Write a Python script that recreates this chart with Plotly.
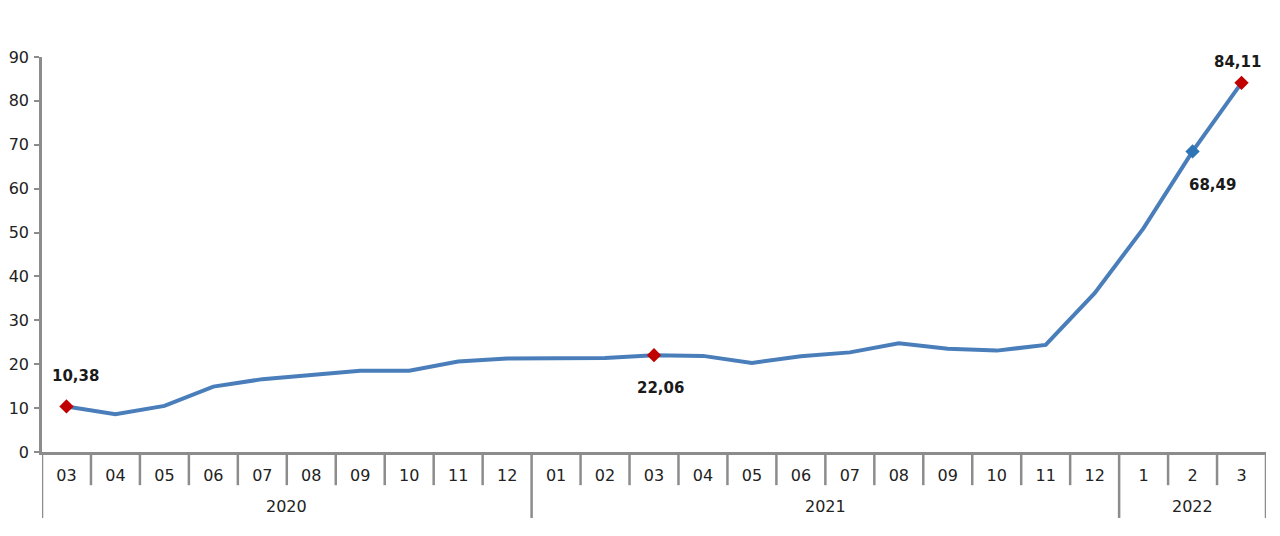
import plotly.graph_objects as go

# aylar ve yillar
months = ["03", "04", "05", "06", "07", "08", "09", "10", "11", "12",
          "01", "02", "03", "04", "05", "06", "07", "08", "09", "10", "11", "12",
          "1", "2", "3"]
years = ["2020", "2021", "2022"]
year_counts = [10, 12, 3]

values = [10.38, 8.6, 10.5, 14.9, 16.6, 17.5, 18.5, 18.5, 20.6, 21.3,
          21.3, 21.4, 22.06, 21.9, 20.3, 21.8, 22.7, 24.8, 23.5, 23.1, 24.4,
          36.2, 51.0, 68.49, 84.11]

# isaretli noktalar: indeks -> renk
highlights = {0: "#C00000", 12: "#C00000", 23: "#2E75B6", 24: "#C00000"}
label_shift = {0: (9, 30), 12: (6, -33), 23: (20, -34), 24: (-4, 21)}

y_ticks = [0, 10, 20, 30, 40, 50, 60, 70, 80, 90]

x_idx = list(range(len(months)))
axis_grey = "#8C8C8C"
font_fam = "DejaVu Sans, Arial"

fig = go.Figure()
fig.add_trace(go.Scatter(
    x=x_idx, y=values, mode="lines",
    line=dict(color="#4A7EBB", width=4),
    hoverinfo="skip", showlegend=False
))

for i, col in highlights.items():
    fig.add_trace(go.Scatter(
        x=[i], y=[values[i]], mode="markers",
        marker=dict(symbol="diamond", size=11, color=col),
        showlegend=False, hoverinfo="skip"
    ))
    txt = f"{values[i]:.2f}".replace(".", ",")
    xs, ys = label_shift[i]
    fig.add_annotation(x=i, y=values[i], text=f"<b>{txt}</b>", showarrow=False,
                       xshift=xs, yshift=ys,
                       font=dict(size=15, color="#1A1A1A", family=font_fam))

shapes = []
# ay ayiricilari
bounds = [0]
for c in year_counts:
    bounds.append(bounds[-1] + c)
for k in range(len(months) + 1):
    long = k in bounds
    shapes.append(dict(type="line", xref="x", yref="paper",
                       x0=k - 0.5, x1=k - 0.5, y0=0, y1=-0.167 if long else -0.084,
                       line=dict(color=axis_grey, width=2.5)))

# yil etiketleri
for j, yr in enumerate(years):
    mid = (bounds[j] + bounds[j + 1] - 1) / 2
    fig.add_annotation(x=mid, y=-0.139, xref="x", yref="paper", text=yr,
                       showarrow=False, yanchor="middle",
                       font=dict(size=16, color="#222222", family=font_fam))

# sayfa govdesindeki 8px kaymayi telafi et
fig.update_layout(
    width=1280, height=536,
    margin=dict(l=34, r=22, t=49, b=92),
    plot_bgcolor="white", paper_bgcolor="white",
    shapes=shapes,
    xaxis=dict(
        range=[-0.5, len(months) - 0.5],
        tickvals=x_idx, ticktext=months,
        showgrid=False, zeroline=False, automargin=False,
        showline=True, linecolor=axis_grey, linewidth=2.5,
        ticks="", ticklabelstandoff=7,
        tickfont=dict(size=16, color="#222222", family=font_fam),
    ),
    yaxis=dict(
        range=[0, 90], tickvals=y_ticks,
        showgrid=False, zeroline=False, automargin=False,
        showline=True, linecolor=axis_grey, linewidth=2.5,
        ticks="outside", ticklen=5, tickcolor=axis_grey, tickwidth=1.5,
        ticklabelstandoff=2,
        tickfont=dict(size=16, color="#222222", family=font_fam),
    ),
)

fig.write_html("out.html")
